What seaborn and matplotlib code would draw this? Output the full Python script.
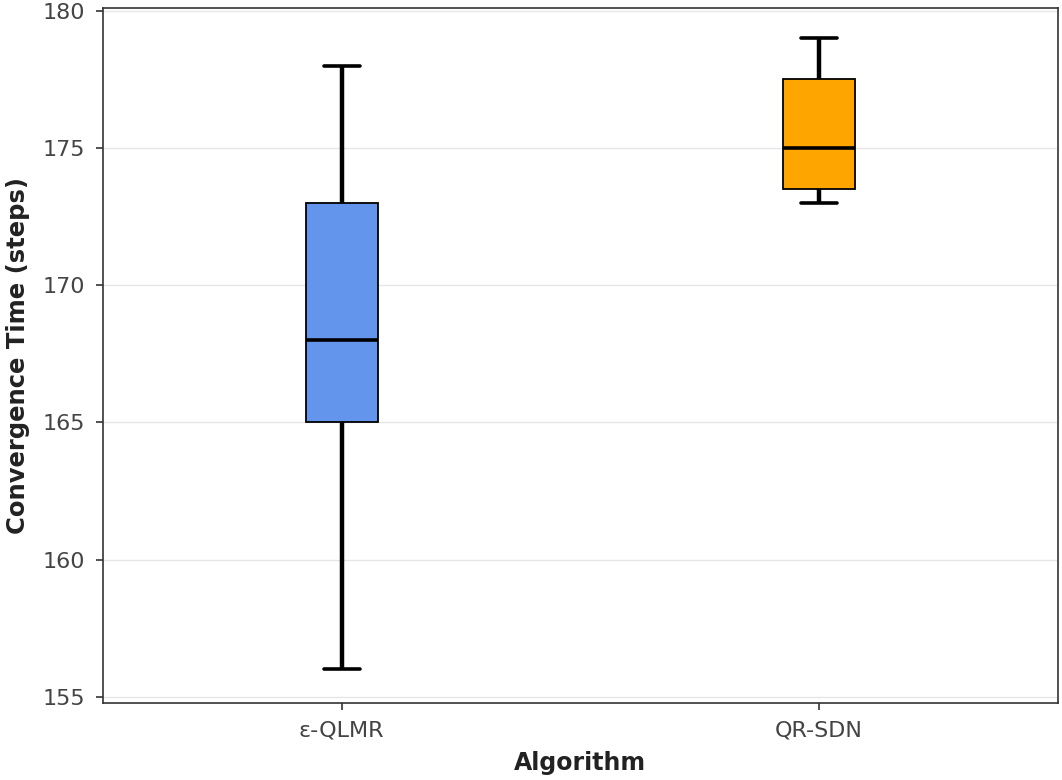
import matplotlib
matplotlib.use('Agg')
import matplotlib.pyplot as plt
import seaborn as sns
import pandas as pd

# box statistics (min, q1, median, q3, max)
algorithms = ['ε-QLMR', 'QR-SDN']
eps_qlmr_times = [156, 165, 168, 173, 178]
qr_sdn_times = [173, 173.5, 175, 177.5, 179]
box_colors = ['#6495ED', '#FFA500']

df = pd.DataFrame({
    'Algorithm': [algorithms[0]] * len(eps_qlmr_times) + [algorithms[1]] * len(qr_sdn_times),
    'Convergence Time (steps)': eps_qlmr_times + qr_sdn_times,
})

sns.set_style('white')
plt.rcParams['font.family'] = ['DejaVu Sans']

fig, ax = plt.subplots(figsize=(10.62, 7.8), dpi=100)
fig.subplots_adjust(left=0.097, right=0.996, top=0.990, bottom=0.099)

sns.boxplot(data=df, x='Algorithm', y='Convergence Time (steps)', hue='Algorithm',
            palette=box_colors, saturation=1, width=0.15, whis=1.5, legend=False, ax=ax,
            boxprops=dict(edgecolor='black', linewidth=1.3),
            whiskerprops=dict(color='black', linewidth=3.2),
            capprops=dict(color='black', linewidth=2.6),
            medianprops=dict(color='black', linewidth=2.6),
            showfliers=False)

ax.set_ylim(154.78, 180.11)
ax.set_yticks([155, 160, 165, 170, 175, 180])
ax.yaxis.grid(True, color='#e6e6e6', linewidth=1)
ax.set_axisbelow(True)
for s in ax.spines.values():
    s.set_color('#333333')
    s.set_linewidth(1.2)
ax.tick_params(axis='both', which='major', labelsize=16, length=5, width=1.2, pad=8,
               color='#333333', labelcolor='#444444', left=True, bottom=True)
ax.set_xlabel('Algorithm', fontsize=17, fontweight='bold', color='#222222', labelpad=7)
ax.set_ylabel('Convergence Time (steps)', fontsize=17.5, fontweight='bold', color='#222222',
              labelpad=9)

fig.savefig('out.png', dpi=100)
